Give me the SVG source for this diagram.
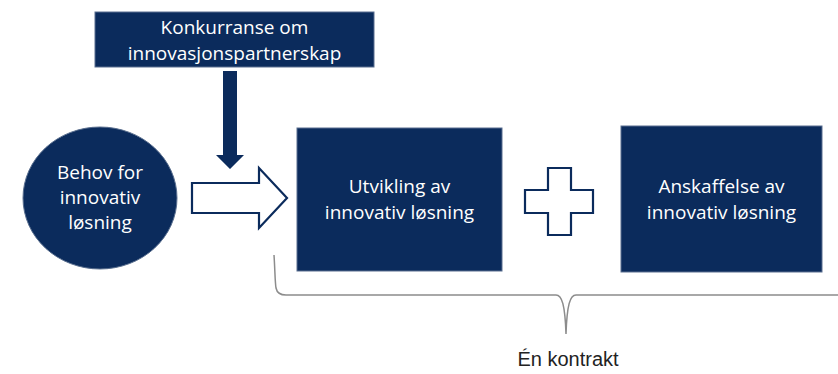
<svg xmlns="http://www.w3.org/2000/svg" width="838" height="374" viewBox="0 0 838 374">
<style>
.node{fill:#0b2b5c;stroke:#5a6f8f;stroke-width:1}
.lbl{font-family:"Open Sans","Liberation Sans",sans-serif;font-size:19px;fill:#ffffff;text-anchor:middle}
.outline{fill:#ffffff;stroke:#0b2b5c;stroke-width:2.2;stroke-linejoin:miter}
.brace{fill:none;stroke:#8c8c8c;stroke-width:1.5}
.cap{font-family:"Liberation Sans",Arial,sans-serif;font-size:20px;fill:#222222;text-anchor:middle}
</style>
<rect width="838" height="374" fill="#ffffff"/>
<g id="konkurranse">
<rect class="node" x="95" y="12" width="279" height="55"/>
<text class="lbl" x="234.5" y="34">Konkurranse om</text>
<text class="lbl" x="234.5" y="60">innovasjonspartnerskap</text>
</g>
<g id="behov">
<ellipse class="node" cx="100" cy="198" rx="77" ry="71"/>
<text class="lbl" x="100" y="179">Behov for</text>
<text class="lbl" x="100" y="204">innovativ</text>
<text class="lbl" x="100" y="229">løsning</text>
</g>
<g id="utvikling">
<rect class="node" x="297" y="128" width="205" height="143"/>
<text class="lbl" x="399.5" y="193">Utvikling av</text>
<text class="lbl" x="399.5" y="219">innovativ løsning</text>
</g>
<g id="pluss">
<path class="outline" d="M548,168 H571 V190 H593 V213 H571 V235 H548 V213 H525 V190 H548 Z"/>
</g>
<g id="anskaffelse">
<rect class="node" x="621" y="126" width="201" height="146"/>
<text class="lbl" x="721.5" y="193">Anskaffelse av</text>
<text class="lbl" x="721.5" y="219">innovativ løsning</text>
</g>
<g id="connectors">
<path d="M223,71 H237 V155 H244 L230,169 L216,155 H223 Z" fill="#0b2b5c"/>
<path class="outline" d="M192,183 H259 V168 L287,198 L259,228 V213 H192 Z"/>
<path class="brace" d="M274,255 C275,270 275,282 276,288 C277,293 280,295 286,295 H556 C562,295 565,305 566,334 C567,305 570,295 576,295 H838"/>
</g>
<g id="en-kontrakt">
<text class="cap" x="568" y="366">Én kontrakt</text>
</g>
</svg>
